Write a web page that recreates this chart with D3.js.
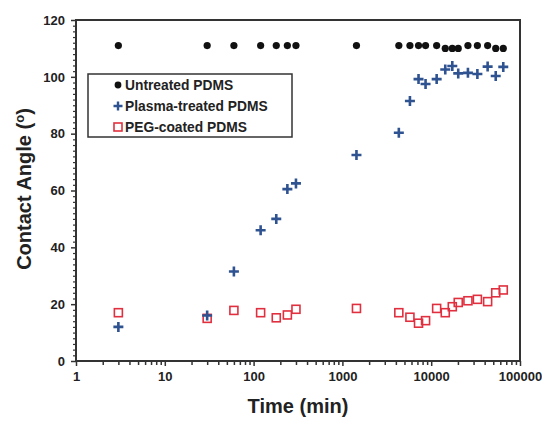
<!DOCTYPE html>
<html>
<head>
<meta charset="utf-8">
<script src="https://cdn.jsdelivr.net/npm/d3@7"></script>
<style>
  body { margin: 0; background: #fff; }
  svg text { font-family: "Liberation Sans", Arial, sans-serif; font-weight: bold; fill: #222; }
</style>
</head>
<body>
<svg id="chart" width="542" height="421"></svg>
<script>
// time points (min)
const times = [3, 30, 60, 120, 180, 240, 300, 1440, 4320, 5760, 7200, 8640, 11520, 14400, 17280, 20160, 25920, 33120, 43200, 53280, 64800];
// contact angles (deg)
const untreated = [111, 111, 111, 111, 111, 111, 111, 111, 111, 111, 111, 111, 111, 110, 110, 110, 111, 111, 111, 110, 110];
const plasma = [12, 16, 31.5, 46, 50, 60.5, 62.5, 72.5, 80.3, 91.5, 99.2, 97.5, 99.2, 102.6, 103.8, 101.2, 101.4, 101, 103.6, 100.3, 103.5];
const peg = [17, 15, 17.8, 17, 15.2, 16.2, 18.2, 18.5, 17, 15.4, 13.3, 14.2, 18.5, 17, 19.1, 20.6, 21.2, 21.7, 20.9, 24, 25];

const xTicks = [1, 10, 100, 1000, 10000, 100000];
const yTicks = [0, 20, 40, 60, 80, 100, 120];
const legendLabels = ["Untreated PDMS", "Plasma-treated PDMS", "PEG-coated PDMS"];

const svg = d3.select("#chart");
const m = { left: 76, right: 520, top: 20, bottom: 361 };
const axisColor = "#333";

const x = d3.scaleLog().domain([1, 100000]).range([m.left, m.right]);
const y = d3.scaleLinear().domain([0, 120]).range([m.bottom, m.top]);

// minor ticks
const xMinor = [];
for (let d = 1; d < 100000; d *= 10) {
  for (let k = 2; k <= 9; k++) xMinor.push(d * k);
}
const yMinor = d3.range(0, 121, 2).filter(v => v % 20 !== 0);

const gx = svg.append("g").attr("transform", `translate(0,${m.bottom})`);
gx.call(d3.axisBottom(x).tickValues(xMinor).tickSize(4).tickFormat(""));
gx.selectAll(".tick line").attr("stroke", axisColor).attr("stroke-width", 1.5);
const gx2 = svg.append("g").attr("transform", `translate(0,${m.bottom})`);
gx2.call(d3.axisBottom(x).tickValues(xTicks).tickSize(5).tickPadding(6).tickFormat(d3.format("d")));
gx2.selectAll(".tick line").attr("stroke", axisColor).attr("stroke-width", 1.5);
gx2.selectAll("text").style("font-size", "13px").attr("fill", "#222");

const gy = svg.append("g").attr("transform", `translate(${m.left},0)`);
gy.call(d3.axisLeft(y).tickValues(yMinor).tickSize(3).tickFormat(""));
gy.selectAll(".tick line").attr("stroke", axisColor).attr("stroke-width", 1.2);
const gy2 = svg.append("g").attr("transform", `translate(${m.left},0)`);
gy2.call(d3.axisLeft(y).tickValues(yTicks).tickSize(5).tickPadding(6));
gy2.selectAll(".tick line").attr("stroke", axisColor).attr("stroke-width", 1.5);
gy2.selectAll("text").style("font-size", "13px").attr("fill", "#222");
svg.selectAll(".domain").remove();

// frame
svg.append("rect")
  .attr("x", m.left).attr("y", m.top)
  .attr("width", m.right - m.left).attr("height", m.bottom - m.top)
  .attr("fill", "none").attr("stroke", axisColor).attr("stroke-width", 2);

// axis titles
svg.append("text")
  .attr("x", (m.left + m.right) / 2).attr("y", 413)
  .attr("text-anchor", "middle")
  .style("font-size", "20px")
  .text("Time (min)");

const yt = svg.append("text")
  .attr("transform", "translate(31,189) rotate(-90)")
  .attr("text-anchor", "middle")
  .style("font-size", "20px");
yt.append("tspan").text("Contact Angle (");
yt.append("tspan").attr("dy", -7).style("font-size", "13px").text("o");
yt.append("tspan").attr("dy", 7).text(")");

// series
const plot = svg.append("g");
const blue = "#2f5290", red = "#e0303f";

plot.selectAll(".peg").data(times).join("rect")
  .attr("x", (d) => x(d) - 4).attr("y", (d, i) => y(peg[i]) - 4)
  .attr("width", 8).attr("height", 8)
  .attr("fill", "none").attr("stroke", red).attr("stroke-width", 1.6);

plot.selectAll(".plasma").data(times).join("path")
  .attr("d", (d, i) => `M${x(d) - 5},${y(plasma[i])}h10M${x(d)},${y(plasma[i]) - 5}v10`)
  .attr("stroke", blue).attr("stroke-width", 2.6);

plot.selectAll(".untreated").data(times).join("circle")
  .attr("cx", (d) => x(d)).attr("cy", (d, i) => y(untreated[i]))
  .attr("r", 3.6).attr("fill", "#111");

// legend
const lg = svg.append("g");
lg.append("rect")
  .attr("x", 88).attr("y", 74).attr("width", 204).attr("height", 63)
  .attr("fill", "#fff").attr("stroke", axisColor).attr("stroke-width", 1.5);
const rows = [85, 106, 127];
legendLabels.forEach((lab, i) => {
  const cy = rows[i];
  if (i === 0) lg.append("circle").attr("cx", 118).attr("cy", cy).attr("r", 3.4).attr("fill", "#111");
  if (i === 1) lg.append("path").attr("d", `M113.5,${cy}h9M118,${cy - 4.5}v9`).attr("stroke", blue).attr("stroke-width", 2.4);
  if (i === 2) lg.append("rect").attr("x", 114).attr("y", cy - 4).attr("width", 8).attr("height", 8)
    .attr("fill", "none").attr("stroke", red).attr("stroke-width", 1.6);
  lg.append("text").attr("x", 125).attr("y", cy + 5).style("font-size", "13.8px").text(lab);
});
</script>
</body>
</html>
